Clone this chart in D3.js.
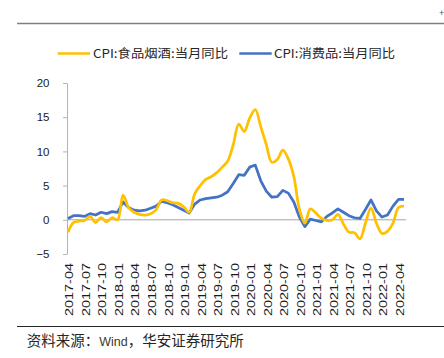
<!DOCTYPE html>
<html><head><meta charset="utf-8">
<script src="https://cdn.jsdelivr.net/npm/d3@7"></script>
<style>body{margin:0;background:#fff;overflow:hidden} svg{display:block}</style>
</head><body><svg id="c" width="444" height="358"></svg>
<script>
const categories = [
"2017-04","2017-05","2017-06","2017-07","2017-08","2017-09","2017-10","2017-11","2017-12",
"2018-01","2018-02","2018-03","2018-04","2018-05","2018-06","2018-07","2018-08","2018-09","2018-10","2018-11","2018-12",
"2019-01","2019-02","2019-03","2019-04","2019-05","2019-06","2019-07","2019-08","2019-09","2019-10","2019-11","2019-12",
"2020-01","2020-02","2020-03","2020-04","2020-05","2020-06","2020-07","2020-08","2020-09","2020-10","2020-11","2020-12",
"2021-01","2021-02","2021-03","2021-04","2021-05","2021-06","2021-07","2021-08","2021-09","2021-10","2021-11","2021-12",
"2022-01","2022-02","2022-03","2022-04","2022-05"];
const foodTobaccoAlcohol = [
-1.8,-0.4,-0.2,-0.1,0.5,-0.4,0.3,-0.3,0.3,
0.0,3.6,1.8,1.1,0.8,0.7,0.9,1.5,2.9,2.8,2.5,2.4,
1.9,1.1,3.8,5.0,5.9,6.3,6.9,7.7,8.6,11.0,14.0,12.9,
14.9,16.1,13.6,11.0,8.4,8.8,10.2,8.9,6.3,1.6,-0.5,1.6,
1.0,0.2,-0.1,0.0,0.8,-0.6,-1.8,-1.9,-2.8,-0.5,1.7,-0.5,
-2.0,-1.7,-0.5,1.8,2.0];
const consumerGoods = [
0.2,0.6,0.6,0.5,0.9,0.7,1.1,0.9,1.2,
1.1,2.6,1.8,1.4,1.3,1.4,1.7,2.0,2.7,2.5,2.2,1.8,
1.4,1.0,2.3,2.9,3.1,3.2,3.3,3.6,4.1,5.3,6.6,6.5,
7.7,8.0,5.7,4.2,3.3,3.4,4.3,3.9,2.6,0.4,-1.0,0.1,
-0.1,-0.3,0.5,1.0,1.6,1.1,0.6,0.3,0.2,1.5,2.9,1.3,
0.4,0.7,2.0,3.0,3.0];
const tickLabels = ["2017-04","2017-07","2017-10","2018-01","2018-04","2018-07","2018-10",
"2019-01","2019-04","2019-07","2019-10","2020-01","2020-04","2020-07","2020-10",
"2021-01","2021-04","2021-07","2021-10","2022-01","2022-04"];
const yTicks = [-5,0,5,10,15,20];
const seriesNames = ["CPI:食品烟酒:当月同比","CPI:消费品:当月同比"];
const seriesColors = ["#FFC000","#4472C4"];
const sourceParts = ["资料来源：","Wind","，华安证券研究所"];

const svg = d3.select("#c");
const x = d3.scalePoint().domain(categories).range([68, 404]);
const y = d3.scaleLinear().domain([-5, 20]).range([254, 83]);
const cjk = "'Noto Sans CJK SC','Noto Sans',sans-serif";
const latin = "'Liberation Sans',Arial,sans-serif";

// page rules
svg.append("line").attr("x1",17).attr("x2",444).attr("y1",23.5).attr("y2",23.5)
  .attr("stroke","#7f7f7f").attr("stroke-width",1.5);
svg.append("line").attr("x1",17).attr("x2",444).attr("y1",326.5).attr("y2",326.5)
  .attr("stroke","#262626").attr("stroke-width",1.2);
svg.append("text").attr("x",439).attr("y",16).attr("font-size",9).attr("fill","#555")
  .attr("font-family",latin).text("+");

// y axis
const yAxis = svg.append("g").attr("transform","translate(67,0)")
  .call(d3.axisLeft(y).tickValues(yTicks).tickSize(4).tickSizeOuter(0).tickPadding(13.5));
yAxis.select(".domain").attr("stroke","#b3b3b3");
yAxis.selectAll(".tick line").attr("stroke","#b3b3b3");
yAxis.selectAll(".tick text").attr("font-family",latin).attr("font-size",11.5).attr("fill","#1a1a1a");

// zero axis line
svg.append("line").attr("x1",67).attr("x2",406).attr("y1",y(0)).attr("y2",y(0))
  .attr("stroke","#a6a6a6").attr("stroke-width",1);

// x tick labels
svg.append("g").selectAll("text").data(tickLabels).join("text")
  .attr("transform", d => `translate(${x(d)+1.5},263) rotate(-90)`)
  .attr("text-anchor","end").attr("dy","0.35em")
  .attr("font-family",latin).attr("font-size",11).attr("fill","#1a1a1a")
  .attr("textLength",53).attr("lengthAdjust","spacingAndGlyphs")
  .text(d => d);

// lines
const lineSmooth = d3.line().x((d,i)=>x(categories[i])).y(d=>y(d)).curve(d3.curveCatmullRom.alpha(0.5));
const lineStraight = d3.line().x((d,i)=>x(categories[i])).y(d=>y(d));
svg.append("path").datum(consumerGoods).attr("d",lineStraight).attr("fill","none")
  .attr("stroke",seriesColors[1]).attr("stroke-width",2.75).attr("stroke-linejoin","round");
svg.append("path").datum(foodTobaccoAlcohol).attr("d",lineSmooth).attr("fill","none")
  .attr("stroke",seriesColors[0]).attr("stroke-width",2.75).attr("stroke-linejoin","round");

// legend
const legend = [{x1:57.7,x2:90,tx:93,len:135},{x1:239.3,x2:271.7,tx:274,len:121}];
legend.forEach((l,i)=>{
  svg.append("line").attr("x1",l.x1).attr("x2",l.x2).attr("y1",53.5).attr("y2",53.5)
    .attr("stroke",seriesColors[i]).attr("stroke-width",2.5);
  svg.append("text").attr("x",l.tx).attr("y",57.8).attr("font-family",cjk).attr("font-size",12)
    .attr("fill","#262626").attr("textLength",l.len).attr("lengthAdjust","spacingAndGlyphs")
    .text(seriesNames[i]);
});

// source
const src = svg.append("text").attr("x",26.7).attr("y",346).attr("font-family",cjk)
  .attr("font-size",14.5).attr("fill","#262626");
src.append("tspan").text(sourceParts[0]);
src.append("tspan").attr("font-family",latin).attr("font-size",12.5).attr("fill","#3b3b1e").text(sourceParts[1]);
src.append("tspan").text(sourceParts[2]);
</script></body></html>
